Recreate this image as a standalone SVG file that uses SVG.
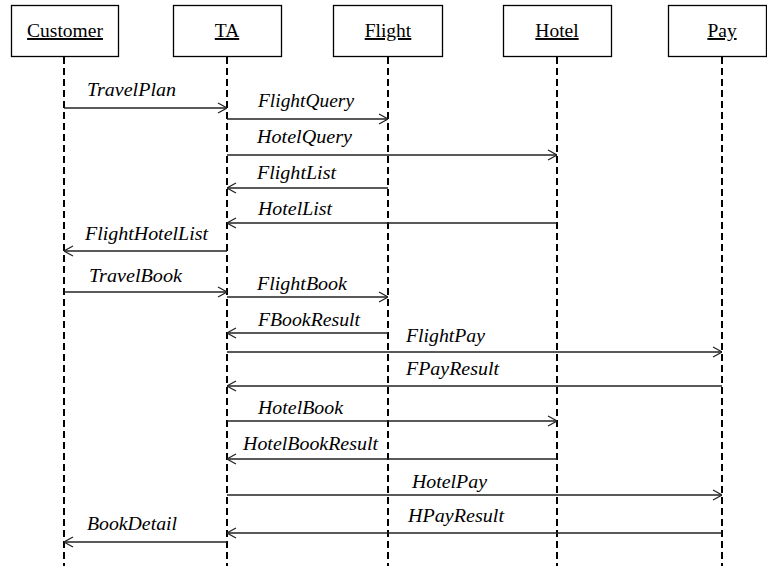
<svg xmlns="http://www.w3.org/2000/svg" width="767" height="566" viewBox="0 0 767 566">
<defs>
<style>
.box{fill:#fff;stroke:#000;stroke-width:1.3}
.hdr{font-family:"Liberation Serif","Times New Roman",serif;font-size:19.5px;text-decoration:underline;text-anchor:middle;fill:#000}
.life{stroke:#000;stroke-width:2;stroke-dasharray:7 4;fill:none}
.msg{stroke:#222;stroke-width:1.3;fill:none}
.lbl{font-family:"Liberation Serif","Times New Roman",serif;font-size:18px;font-style:italic;fill:#000}
</style>
<marker id="arr" viewBox="0 0 10 12" refX="10" refY="6" markerWidth="10" markerHeight="12" markerUnits="userSpaceOnUse" orient="auto">
<path d="M1,1 L10,6 L1,11" fill="none" stroke="#222" stroke-width="1.2"/>
</marker>
</defs>
<rect width="767" height="566" fill="#fff"/>
<g id="customer">
<rect class="box" x="11.5" y="5.5" width="107" height="51"/>
<text class="hdr" x="65" y="37">Customer</text>
<line class="life" x1="64" y1="57" x2="64" y2="566"/>
</g>
<g id="ta">
<rect class="box" x="173.5" y="5.5" width="108" height="51"/>
<text class="hdr" x="227" y="37">TA</text>
<line class="life" x1="227" y1="57" x2="227" y2="566"/>
</g>
<g id="flight">
<rect class="box" x="333.5" y="5.5" width="109" height="51"/>
<text class="hdr" x="388" y="37">Flight</text>
<line class="life" x1="388" y1="57" x2="388" y2="566"/>
</g>
<g id="hotel">
<rect class="box" x="503.5" y="5.5" width="108" height="51"/>
<text class="hdr" x="557" y="37">Hotel</text>
<line class="life" x1="557" y1="57" x2="557" y2="566"/>
</g>
<g id="pay">
<rect class="box" x="668.5" y="5.5" width="98" height="51"/>
<text class="hdr" x="722" y="37">Pay</text>
<line class="life" x1="722" y1="57" x2="722" y2="566"/>
</g>
<g id="connectors">
<line class="msg" x1="64" y1="108" x2="227" y2="108" marker-end="url(#arr)"/>
<line class="msg" x1="227" y1="119" x2="388" y2="119" marker-end="url(#arr)"/>
<line class="msg" x1="227" y1="155" x2="557" y2="155" marker-end="url(#arr)"/>
<line class="msg" x1="388" y1="188" x2="227" y2="188" marker-end="url(#arr)"/>
<line class="msg" x1="557" y1="223" x2="227" y2="223" marker-end="url(#arr)"/>
<line class="msg" x1="227" y1="251" x2="64" y2="251" marker-end="url(#arr)"/>
<line class="msg" x1="64" y1="292" x2="227" y2="292" marker-end="url(#arr)"/>
<line class="msg" x1="227" y1="297" x2="388" y2="297" marker-end="url(#arr)"/>
<line class="msg" x1="388" y1="333" x2="227" y2="333" marker-end="url(#arr)"/>
<line class="msg" x1="227" y1="352" x2="722" y2="352" marker-end="url(#arr)"/>
<line class="msg" x1="722" y1="386" x2="227" y2="386" marker-end="url(#arr)"/>
<line class="msg" x1="227" y1="421" x2="557" y2="421" marker-end="url(#arr)"/>
<line class="msg" x1="557" y1="459" x2="227" y2="459" marker-end="url(#arr)"/>
<line class="msg" x1="227" y1="495" x2="722" y2="495" marker-end="url(#arr)"/>
<line class="msg" x1="722" y1="533" x2="227" y2="533" marker-end="url(#arr)"/>
<line class="msg" x1="227" y1="542" x2="64" y2="542" marker-end="url(#arr)"/>
<text class="lbl" x="87" y="96" textLength="89" lengthAdjust="spacingAndGlyphs">TravelPlan</text>
<text class="lbl" x="258" y="107" textLength="96" lengthAdjust="spacingAndGlyphs">FlightQuery</text>
<text class="lbl" x="257" y="143" textLength="95" lengthAdjust="spacingAndGlyphs">HotelQuery</text>
<text class="lbl" x="257" y="179" textLength="79" lengthAdjust="spacingAndGlyphs">FlightList</text>
<text class="lbl" x="258" y="215" textLength="74" lengthAdjust="spacingAndGlyphs">HotelList</text>
<text class="lbl" x="85" y="240" textLength="123" lengthAdjust="spacingAndGlyphs">FlightHotelList</text>
<text class="lbl" x="89" y="282" textLength="93" lengthAdjust="spacingAndGlyphs">TravelBook</text>
<text class="lbl" x="257" y="290" textLength="90" lengthAdjust="spacingAndGlyphs">FlightBook</text>
<text class="lbl" x="258" y="326" textLength="102" lengthAdjust="spacingAndGlyphs">FBookResult</text>
<text class="lbl" x="406" y="342" textLength="79" lengthAdjust="spacingAndGlyphs">FlightPay</text>
<text class="lbl" x="406" y="375" textLength="93" lengthAdjust="spacingAndGlyphs">FPayResult</text>
<text class="lbl" x="258" y="414" textLength="85" lengthAdjust="spacingAndGlyphs">HotelBook</text>
<text class="lbl" x="243" y="450" textLength="135" lengthAdjust="spacingAndGlyphs">HotelBookResult</text>
<text class="lbl" x="412" y="488" textLength="75" lengthAdjust="spacingAndGlyphs">HotelPay</text>
<text class="lbl" x="408" y="522" textLength="96" lengthAdjust="spacingAndGlyphs">HPayResult</text>
<text class="lbl" x="87" y="530" textLength="90" lengthAdjust="spacingAndGlyphs">BookDetail</text>
</g>
</svg>
